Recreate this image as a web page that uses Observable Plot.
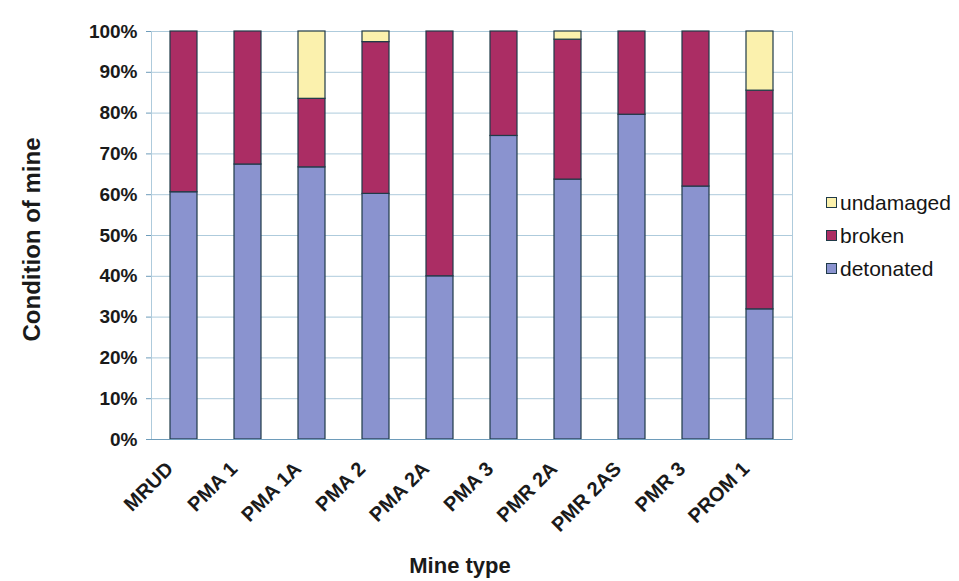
<!DOCTYPE html>
<html><head><meta charset="utf-8">
<script src="https://cdn.jsdelivr.net/npm/d3@7"></script>
<script src="https://cdn.jsdelivr.net/npm/@observablehq/plot@0.6"></script>
<style>
body{margin:0;background:#fff;font-family:"Liberation Sans",Arial,sans-serif}
#wrap{position:relative;width:959px;height:581px}
#legend{position:absolute;left:826px;top:186px;font-size:21px;color:#151515}
.item{display:flex;align-items:center;height:33px}
.sw{width:9px;height:9px;border:1px solid #1f3a48;margin-right:3px}
</style></head><body><div id="wrap"></div><script>
const categories = ["MRUD","PMA 1","PMA 1A","PMA 2","PMA 2A","PMA 3","PMR 2A","PMR 2AS","PMR 3","PROM 1"];
const detonated = [60.6, 67.4, 66.7, 60.2, 40.0, 74.4, 63.7, 79.6, 62.0, 31.9];
const broken    = [39.4, 32.6, 16.8, 37.2, 60.0, 25.6, 34.3, 20.4, 38.0, 53.6];
const undamaged = [0, 0, 16.5, 2.6, 0, 0, 2.0, 0, 0, 14.5];
const series = ["detonated","broken","undamaged"];
const colors = ["#8a93cf","#ab2d64","#fbf1ad"];
const yTicks = [0,10,20,30,40,50,60,70,80,90,100];

const seriesValues = {detonated, broken, undamaged};
const data = categories.flatMap((c,i) => series.map(s => ({type:c, condition:s, value:seriesValues[s][i]})));

const chart = Plot.plot({
  width:959, height:581,
  marginLeft:151, marginRight:167, marginTop:31, marginBottom:142,
  style:{fontFamily:"Liberation Sans, Arial, sans-serif", fontSize:"19px", background:"transparent", color:"#1a1a1a"},
  x:{domain:categories, paddingInner:0.58, paddingOuter:0.29, label:null},
  y:{domain:[0,100], label:null},
  color:{domain:series, range:colors},
  marks:[
    Plot.gridY(yTicks, {stroke:"#aecbdc", strokeOpacity:1}),
    Plot.frame({stroke:"#aecbdc"}),
    Plot.barY(data, {x:"type", y:"value", fill:"condition", stroke:"#1f3a48", strokeWidth:1.2, order:series}),
    Plot.ruleY([0], {stroke:"#6e9cba"}),
    Plot.axisY(yTicks, {tickFormat:d => d + "%", tickSize:5, tickPadding:9, fontWeight:"bold", stroke:"#6e9cba", label:null}),
    Plot.axisX({tickRotate:-45, tickSize:0, tickPadding:26, dx:-14, fontSize:20, fontWeight:"bold", label:null}),
    Plot.text(["Condition of mine"], {text:d => d, frameAnchor:"left", textAnchor:"middle", dx:-119, dy:4, rotate:-90, fontSize:24, fontWeight:"bold"}),
    Plot.text(["Mine type"], {text:d => d, frameAnchor:"bottom", textAnchor:"middle", dy:133, dx:-12, fontSize:22, fontWeight:"bold"})
  ]
});
const wrap = document.getElementById("wrap");
wrap.appendChild(chart);

const legend = document.createElement("div");
legend.id = "legend";
[...series].reverse().forEach(s => {
  const item = document.createElement("div");
  item.className = "item";
  const sw = document.createElement("span");
  sw.className = "sw";
  sw.style.background = colors[series.indexOf(s)];
  const label = document.createElement("span");
  label.textContent = s;
  item.appendChild(sw); item.appendChild(label);
  legend.appendChild(item);
});
wrap.appendChild(legend);
</script></body></html>
